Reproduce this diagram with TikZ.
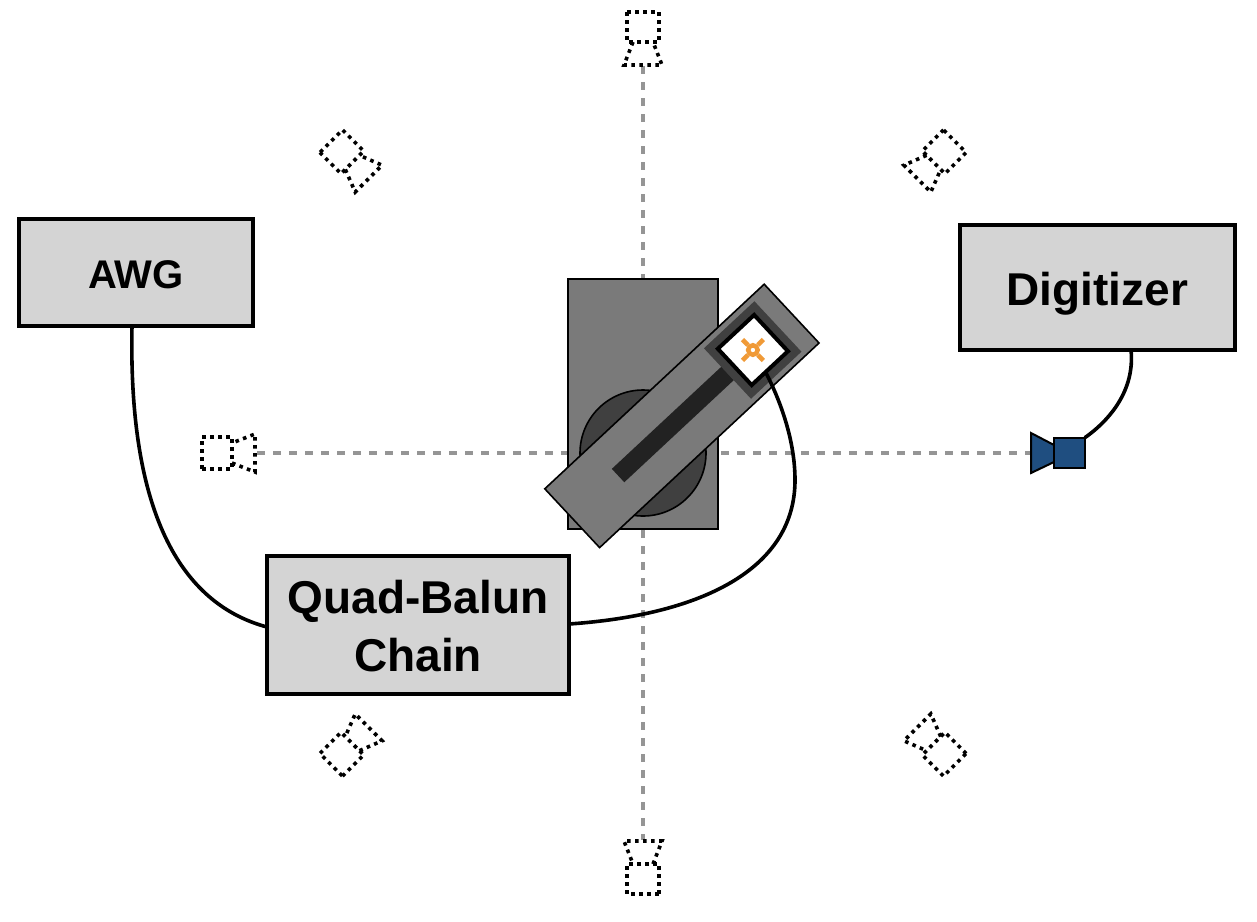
\documentclass[tikz,border=0pt]{standalone}
\usepackage{fontspec}
\setmainfont{Liberation Sans}
\definecolor{boxgray}{HTML}{D4D4D4}
\definecolor{midgray}{HTML}{7A7A7A}
\definecolor{darkgray}{HTML}{404040}
\definecolor{slotgray}{HTML}{222222}
\definecolor{axisgray}{HTML}{959595}
\definecolor{hornblue}{HTML}{1F4E80}
\definecolor{sampleorange}{HTML}{F09A37}
\tikzset{
  instrument/.style={draw=black,fill=boxgray,line width=3.6pt,inner sep=0pt,outer sep=0pt,align=center,font=\bfseries},
  cable/.style={draw=black,line width=3.6pt},
  axisline/.style={draw=axisgray,line width=3.6pt,dash pattern=on 8pt off 8pt},
  ghosthorn/.style={draw=black,line width=3.6pt,dash pattern=on 3.6pt off 4.4pt,fill=none},
  stagepart/.style={draw=black,line width=1.6pt,fill=midgray,inner sep=0pt,outer sep=0pt},
  armfeature/.style={rotate=43,inner sep=0pt,outer sep=0pt},
  hornpart/.style={draw=black,line width=2pt,fill=hornblue,inner sep=0pt,outer sep=0pt}
}
\begin{document}
\begin{tikzpicture}[x=1pt,y=-1pt]
\useasboundingbox (0,0) rectangle (1257,921);
\fill[white] (0,0) rectangle (1257,921);
% axes
\coordinate (axT) at (643,66);
\coordinate (axB) at (643,840);
\coordinate (axL) at (257,453);
\coordinate (axR) at (1031,453);
\draw[axisline] (axT) -- (axB);
\draw[axisline] (axL) -- (axR);
% ghost horns
\foreach \a in {0,45,90,135,180,225,315}{
  \begin{scope}[shift={(643,453)},rotate=\a]
    \draw[ghosthorn] (-16,-441) rectangle (16,-411);
    \draw[ghosthorn] (-10,-411) -- (-19,-388) -- (19,-388) -- (10,-411);
  \end{scope}
}
% stage
\node[stagepart,minimum width=150pt,minimum height=250pt] (base) at (643,404) {};
\node[draw=black,line width=1.6pt,fill=darkgray,circle,minimum size=126pt,inner sep=0pt] (disc) at (643,453) {};
\node[stagepart,armfeature,minimum width=300pt,minimum height=80.4pt] (arm) at (681.9,415.9) {};
\node[armfeature,fill=slotgray,minimum width=150pt,minimum height=18.3pt] (slot) at (672.9,424.4) {};
\node[armfeature,fill=darkgray,minimum size=69pt] (socket) at (752.7,350) {};
\node[armfeature,draw=black,fill=white,line width=4pt,minimum size=49.6pt] (chip) at (752.9,350) {};
\node[circle,draw=sampleorange,line width=4.5pt,minimum size=9.5pt,inner sep=0pt] (sample) at (752.9,350) {};
\foreach \ang/\x/\y in {45/5.5/-5.5,135/-5.5/-5.5,225/-5.5/5.5,315/5.5/5.5}{
  \draw[sampleorange,line width=4.5pt] (sample.\ang) -- ++(\x,\y);
}
% instruments
\node[instrument,minimum width=234pt,minimum height=107pt,font=\bfseries\fontsize{40}{48}\selectfont] (awg) at (136,272.5) {\raisebox{0pt}[31pt][0pt]{AWG}};
\node[instrument,minimum width=275pt,minimum height=125pt,font=\bfseries\fontsize{46}{56}\selectfont] (dig) at (1097.5,287.5) {\raisebox{0pt}[35pt][0pt]{Digitizer}};
\node[instrument,minimum width=302pt,minimum height=138pt,font=\bfseries\fontsize{46}{58.3}\selectfont] (qb) at (418,625) {\raisebox{0pt}[35pt][0pt]{Quad-Balun}\\\raisebox{0pt}[35pt][0pt]{Chain}};
% receive horn
\draw[hornpart] (1054,445) -- (1031,433) -- (1031,473) -- (1054,462) -- cycle;
\node[hornpart,minimum size=30.6pt] (rx) at (1069.5,453) {};
% cables
\coordinate (chipwire) at (766,373);
\draw[cable] ([xshift=-4pt]awg.south) .. controls (128,520) and (185,605) .. ([yshift=-2pt]qb.west);
\draw[cable] ([yshift=1pt]qb.east) .. controls (700,615) and (795,570) .. (795,480) .. controls (795,440) and (780,400) .. (chipwire);
\draw[cable] ([xshift=33.5pt]dig.south) .. controls (1135,390) and (1110,420) .. (rx.north east);
\end{tikzpicture}
\end{document}
